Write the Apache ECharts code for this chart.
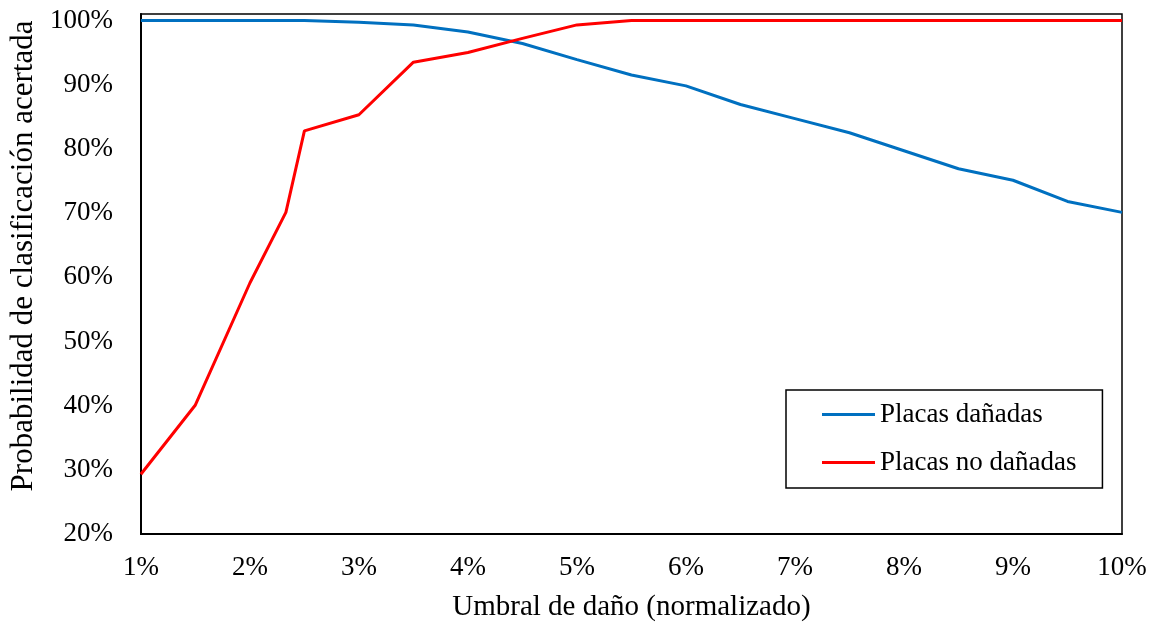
<!DOCTYPE html>
<html>
<head>
<meta charset="utf-8">
<script src="https://cdn.jsdelivr.net/npm/echarts@6/dist/echarts.min.js"></script>
<style>
  html, body { margin: 0; padding: 0; background: #fff; }
  #main { width: 1154px; height: 627px; }
</style>
</head>
<body>
<div id="main"></div>
<script>
// umbral de daño (%) y probabilidad (%)
const umbralDanadas = [1, 1.5, 2, 2.5, 3, 3.5, 4, 4.5, 5, 5.5, 6, 6.5, 7, 7.5, 8, 8.5, 9, 9.5, 10]
const probDanadas = [100, 100, 100, 100, 99.7, 99.3, 98.2, 96.4, 93.9, 91.5, 89.8, 86.9, 84.7, 82.5, 79.7, 76.9, 75.1, 71.8, 70.1]

const umbralNoDanadas = [1, 1.5, 2, 2.33, 2.5, 3, 3.5, 4, 4.5, 5, 5.5, 6, 6.5, 7, 7.5, 8, 8.5, 9, 9.5, 10]
const probNoDanadas = [29.3, 40.1, 59.1, 70.1, 82.8, 85.3, 93.5, 95.0, 97.2, 99.3, 100, 100, 100, 100, 100, 100, 100, 100, 100, 100]

const nombres = ['Placas dañadas', 'Placas no dañadas']
const colores = ['#0070C0', '#FF0000']

const font = 'Liberation Serif, Times New Roman, serif'

function pares(xs, ys) {
  return xs.map((x, i) => [x, ys[i]])
}

var myChart = echarts.init(document.getElementById('main'))
myChart.setOption({
  animation: false,
  textStyle: { fontFamily: font, color: '#000' },
  grid: {
    left: 140, right: 32, top: 14, bottom: 92,
    show: true, borderColor: '#000', borderWidth: 1.5
  },
  legend: {
    orient: 'vertical',
    left: 786, top: 390,
    padding: [11, 26, 12, 36],
    itemGap: 21,
    itemWidth: 53, itemHeight: 3,
    icon: 'rect',
    borderColor: '#000', borderWidth: 1.5,
    backgroundColor: '#fff',
    textStyle: { fontFamily: font, fontSize: 27, color: '#000', lineHeight: 27, padding: [0, 0, 0, 0] },
    data: nombres
  },
  xAxis: {
    type: 'value',
    min: 1, max: 10, interval: 1,
    name: 'Umbral de daño (normalizado)',
    nameLocation: 'middle',
    nameGap: 59,
    nameTextStyle: { fontFamily: font, fontSize: 29, color: '#000' },
    axisLine: { show: true, lineStyle: { color: '#000', width: 2 } },
    axisTick: { show: false },
    splitLine: { show: false },
    axisLabel: { fontFamily: font, fontSize: 27, color: '#000', margin: 20, formatter: v => v + '%' }
  },
  yAxis: {
    type: 'value',
    min: 20, max: 101, interval: 10,
    name: 'Probabilidad de clasificación acertada',
    nameLocation: 'middle',
    nameGap: 97,
    nameTextStyle: { fontFamily: font, fontSize: 31, color: '#000', padding: [0, 0, 0, 36] },
    axisLine: { show: true, lineStyle: { color: '#000', width: 2 } },
    axisTick: { show: false },
    splitLine: { show: false },
    axisLabel: { fontFamily: font, fontSize: 27, color: '#000', margin: 28, showMaxLabel: false, formatter: v => Math.round(v) + '%' }
  },
  series: [
    {
      name: nombres[0],
      type: 'line',
      data: pares(umbralDanadas, probDanadas),
      symbol: 'none',
      lineStyle: { color: colores[0], width: 3 },
      itemStyle: { color: colores[0] }
    },
    {
      name: nombres[1],
      type: 'line',
      data: pares(umbralNoDanadas, probNoDanadas),
      symbol: 'none',
      lineStyle: { color: colores[1], width: 3 },
      itemStyle: { color: colores[1] }
    }
  ]
})
</script>
</body>
</html>
